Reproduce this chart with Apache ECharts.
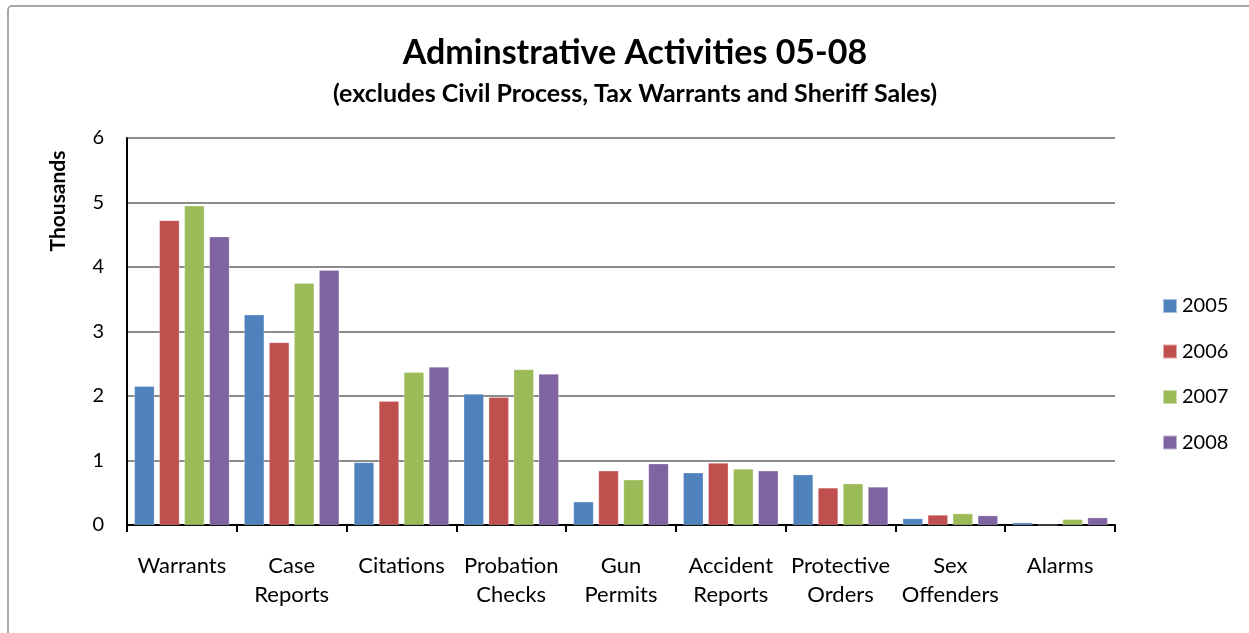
<!DOCTYPE html>
<html><head><meta charset="utf-8">
<script src="https://cdn.jsdelivr.net/npm/echarts@6/dist/echarts.min.js"></script>
<style>html,body{margin:0;padding:0;background:#fff}#c{width:1249px;height:633px}</style>
</head><body><div id="c"></div>
<script>
var categories = ['Warrants','Case\nReports','Citations','Probation\nChecks','Gun\nPermits','Accident\nReports','Protective\nOrders','Sex\nOffenders','Alarms'];
var seriesNames = ['2005','2006','2007','2008'];
var v2005 = [2.15, 3.26, 0.97, 2.03, 0.36, 0.81, 0.78, 0.10, 0.036];
var v2006 = [4.72, 2.83, 1.92, 1.98, 0.84, 0.96, 0.575, 0.155, 0];
var v2007 = [4.95, 3.75, 2.37, 2.41, 0.70, 0.87, 0.64, 0.176, 0.088];
var v2008 = [4.47, 3.95, 2.45, 2.34, 0.95, 0.84, 0.59, 0.145, 0.114];
var yTicks = [0,1,2,3,4,5,6];
var colors = ['#4F81BD','#C0504D','#9BBB59','#8064A2'];
var FONT = 'Lato, "Open Sans", sans-serif';
var allValues = [v2005, v2006, v2007, v2008];

var chart = echarts.init(document.getElementById('c'));
chart.setOption({
  animation: false,
  textStyle: {fontFamily: FONT},
  title: [
    {text: 'Adminstrative Activities 05-08', left: 630, top: 31, textAlign: 'center',
     textStyle: {fontFamily: FONT, fontSize: 34, fontWeight: 'bold', color: '#000'}},
    {text: '(excludes Civil Process, Tax Warrants and Sheriff Sales)', left: 630, top: 76, textAlign: 'center',
     textStyle: {fontFamily: FONT, fontSize: 25, fontWeight: 'bold', color: '#000'}}
  ],
  legend: {
    orient: 'vertical', left: 1157, top: 291,
    itemWidth: 14, itemHeight: 14, itemGap: 25.5,
    icon: 'rect',
    textStyle: {fontFamily: FONT, fontSize: 20, lineHeight: 20, color: '#000'},
    data: seriesNames
  },
  grid: {left: 127, right: 134, top: 138, bottom: 108, containLabel: false},
  xAxis: {
    type: 'category', data: categories,
    axisLine: {lineStyle: {color: '#000', width: 2}},
    axisTick: {show: true, length: 7, lineStyle: {color: '#000', width: 2}, alignWithLabel: false},
    axisLabel: {fontFamily: FONT, fontSize: 22, color: '#000', lineHeight: 29, margin: 26, interval: 0}
  },
  yAxis: {
    type: 'value', min: 0, max: 6, interval: 1,
    axisLine: {show: true, lineStyle: {color: '#000', width: 2}},
    axisTick: {show: false},
    axisLabel: {fontFamily: FONT, fontSize: 20, color: '#000', margin: 23,
      formatter: function(v){ return yTicks.indexOf(v) >= 0 ? String(v) : ''; }},
    splitLine: {lineStyle: {color: '#8c8c8c', width: 2}}
  },
  graphic: [
    {type: 'rect', shape: {x: 8, y: 6, width: 1260, height: 660, r: 4},
     style: {fill: 'none', stroke: '#8c8c8c', lineWidth: 1.5}, silent: true},
    {type: 'text', x: 58, y: 201, rotation: Math.PI / 2,
     style: {text: 'Thousands', fontFamily: FONT, fontSize: 21, fontWeight: 'bold', fill: '#000',
             align: 'center', verticalAlign: 'middle'}}
  ],
  series: seriesNames.map(function(n, i){
    return {
      name: n, type: 'bar', data: allValues[i],
      barWidth: 20, barGap: '25%',
      itemStyle: {color: colors[i], borderColor: 'rgba(255,255,255,0.5)', borderWidth: 0.5}
    };
  })
});
</script></body></html>
